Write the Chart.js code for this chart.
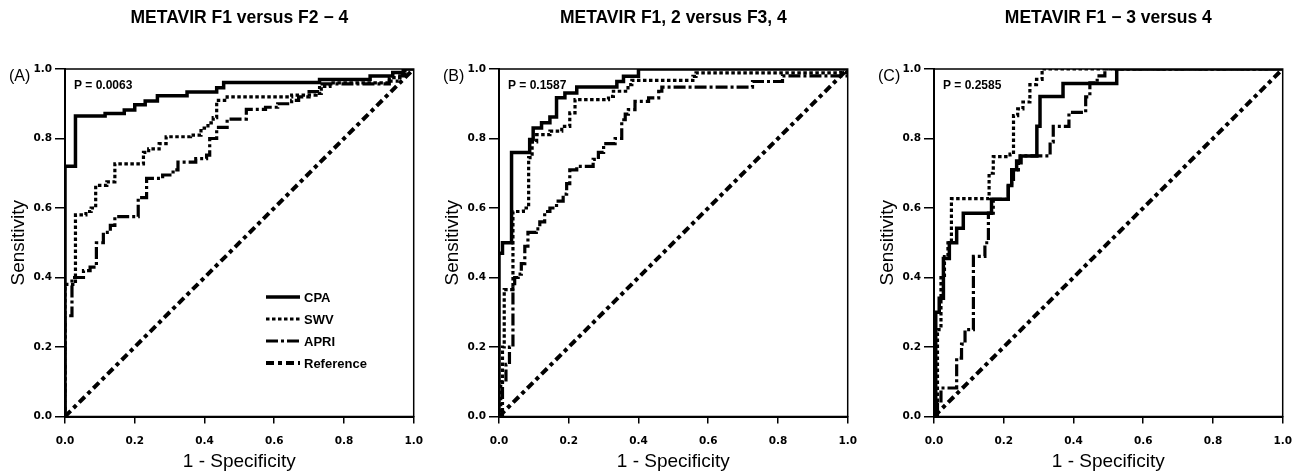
<!DOCTYPE html>
<html>
<head>
<meta charset="utf-8">
<script src="https://cdn.jsdelivr.net/npm/chart.js@4"></script>
<style>
  html, body { margin: 0; padding: 0; background: #fff; overflow: hidden; }
  .panel { position: absolute; top: 0; }
</style>
</head>
<body>
<canvas id="chartA" class="panel" width="434" height="474" style="left:0px"></canvas>
<canvas id="chartB" class="panel" width="434" height="474" style="left:434px"></canvas>
<canvas id="chartC" class="panel" width="434" height="474" style="left:869px"></canvas>
<script>
// axes
const tickValues = [0, 0.2, 0.4, 0.6, 0.8, 1.0];
const tickLabels = ['0.0', '0.2', '0.4', '0.6', '0.8', '1.0'];
const seriesNames = ['CPA', 'SWV', 'APRI', 'Reference'];
const panelTitles = ['METAVIR F1 versus F2 \u2212 4', 'METAVIR F1, 2 versus F3, 4', 'METAVIR F1 \u2212 3 versus 4'];
const panelLetters = ['(A)', '(B)', '(C)'];
const pLabels = ['P = 0.0063', 'P = 0.1587', 'P = 0.2585'];

// (A) F1 vs F2-4 : x = 1 - specificity, y = sensitivity
const cpaAx = [0, 0, 0.03, 0.115, 0.17, 0.20, 0.23, 0.265, 0.35, 0.435, 0.455, 0.73, 0.875, 0.94, 0.97, 1];
const cpaAy = [0, 0.72, 0.865, 0.872, 0.882, 0.897, 0.908, 0.923, 0.934, 0.946, 0.961, 0.97, 0.98, 0.99, 1.0, 1.0];
const swvAx = [0, 0, 0.03, 0.06, 0.075, 0.088, 0.12, 0.143, 0.225, 0.24, 0.27, 0.29, 0.36, 0.39, 0.41, 0.425, 0.435, 0.465, 0.65, 0.72, 0.735, 0.76, 0.93, 0.96, 0.975, 1];
const swvAy = [0, 0.38, 0.58, 0.59, 0.60, 0.665, 0.675, 0.727, 0.76, 0.77, 0.785, 0.805, 0.81, 0.83, 0.845, 0.86, 0.91, 0.92, 0.925, 0.93, 0.95, 0.96, 0.975, 0.985, 1.0, 1.0];
const apriAx = [0, 0, 0.02, 0.053, 0.072, 0.09, 0.11, 0.13, 0.143, 0.21, 0.234, 0.28, 0.31, 0.324, 0.375, 0.406, 0.415, 0.435, 0.465, 0.52, 0.575, 0.61, 0.65, 0.67, 0.70, 0.73, 0.93, 0.96, 0.975, 1];
const apriAy = [0, 0.29, 0.40, 0.42, 0.43, 0.50, 0.53, 0.55, 0.575, 0.63, 0.685, 0.695, 0.71, 0.732, 0.742, 0.752, 0.80, 0.832, 0.856, 0.884, 0.89, 0.90, 0.91, 0.92, 0.935, 0.957, 0.965, 0.98, 1.0, 1.0];

// (B) F1, 2 vs F3, 4
const cpaBx = [0, 0, 0.01, 0.036, 0.088, 0.098, 0.122, 0.146, 0.165, 0.189, 0.223, 0.338, 0.357, 0.40, 1];
const cpaBy = [0, 0.47, 0.50, 0.76, 0.797, 0.83, 0.845, 0.862, 0.917, 0.931, 0.948, 0.964, 0.979, 1.0, 1.0];
const swvBx = [0, 0.005, 0.01, 0.015, 0.04, 0.07, 0.085, 0.095, 0.108, 0.146, 0.18, 0.203, 0.218, 0.314, 0.328, 0.37, 0.381, 0.556, 0.565, 0.98, 1];
const swvBy = [0, 0.10, 0.20, 0.365, 0.59, 0.60, 0.745, 0.79, 0.811, 0.821, 0.835, 0.874, 0.912, 0.921, 0.936, 0.955, 0.967, 0.979, 0.989, 0.99, 1.0];
const apriBx = [0, 0.01, 0.02, 0.03, 0.04, 0.045, 0.055, 0.064, 0.074, 0.083, 0.107, 0.117, 0.131, 0.146, 0.165, 0.184, 0.194, 0.203, 0.223, 0.27, 0.285, 0.30, 0.333, 0.352, 0.362, 0.371, 0.39, 0.429, 0.458, 0.467, 0.727, 0.813, 1];
const apriBy = [0, 0.10, 0.15, 0.20, 0.37, 0.40, 0.41, 0.44, 0.49, 0.53, 0.54, 0.56, 0.59, 0.60, 0.62, 0.64, 0.67, 0.71, 0.72, 0.74, 0.76, 0.785, 0.80, 0.854, 0.87, 0.883, 0.907, 0.917, 0.936, 0.948, 0.964, 0.98, 1.0];

// (C) F1-3 vs 4
const cpaCx = [0, 0.005, 0.015, 0.027, 0.044, 0.065, 0.084, 0.165, 0.213, 0.223, 0.237, 0.247, 0.295, 0.304, 0.37, 0.524, 1];
const cpaCy = [0, 0.30, 0.34, 0.455, 0.50, 0.542, 0.585, 0.625, 0.665, 0.71, 0.735, 0.75, 0.835, 0.921, 0.958, 1.0, 1.0];
const swvCx = [0, 0.01, 0.02, 0.03, 0.04, 0.05, 0.158, 0.17, 0.218, 0.228, 0.24, 0.255, 0.275, 0.294, 0.31, 1];
const swvCy = [0, 0.25, 0.40, 0.46, 0.50, 0.627, 0.70, 0.748, 0.755, 0.866, 0.885, 0.905, 0.955, 0.97, 1.0, 1.0];
const apriCx = [0, 0.01, 0.02, 0.065, 0.079, 0.089, 0.113, 0.146, 0.156, 0.17, 0.213, 0.228, 0.242, 0.25, 0.333, 0.342, 0.387, 0.435, 0.447, 0.468, 0.49, 1];
const apriCy = [0, 0.04, 0.082, 0.168, 0.208, 0.25, 0.461, 0.50, 0.585, 0.625, 0.67, 0.71, 0.73, 0.75, 0.79, 0.835, 0.875, 0.92, 0.96, 0.98, 1.0, 1.0];

// chance line
const refX = [0, 1];
const refY = [0, 1];

const lineStyles = {
    CPA: { borderDash: [], borderWidth: 3.5 },
    SWV: { borderDash: [3.5, 2.5], borderWidth: 3.2 },
    APRI: { borderDash: [12, 3, 3, 3], borderWidth: 3.2 },
    Reference: { borderDash: [8, 4, 4, 4], borderWidth: 4 }
};

const FONT = '"Liberation Sans", Arial, sans-serif';
const TICK_FONT = '"DejaVu Sans", Verdana, sans-serif';

const panelText = {
    id: 'panelText',
    beforeDatasetsDraw(chart) {
        const { ctx, chartArea: ca } = chart;
        ctx.save();
        ctx.strokeStyle = '#000';
        ctx.lineWidth = 1.5;
        ctx.strokeRect(ca.left, ca.top, ca.right - ca.left, ca.bottom - ca.top);
        ctx.restore();
    },
    afterDraw(chart, args, opts) {
        const { ctx, chartArea: ca } = chart;
        ctx.save();
        ctx.fillStyle = '#000';
        ctx.textBaseline = 'alphabetic';
        ctx.textAlign = 'left';
        ctx.font = '16px ' + FONT;
        ctx.fillText(opts.letter, 9, 81);
        ctx.font = 'bold 12px ' + FONT;
        ctx.fillText(opts.pLabel, ca.left + 9, ca.top + 20);

        if (opts.legend) {
            const x0 = ca.left + 201, x1 = ca.left + 235;
            chart.data.datasets.forEach((ds, i) => {
                const y = ca.top + 228 + i * 22;
                ctx.beginPath();
                ctx.setLineDash(ds.borderDash);
                ctx.lineWidth = ds.borderWidth;
                ctx.strokeStyle = '#000';
                ctx.moveTo(x0, y);
                ctx.lineTo(x1, y);
                ctx.stroke();
                ctx.setLineDash([]);
                ctx.font = 'bold 13px ' + FONT;
                ctx.textBaseline = 'middle';
                ctx.fillText(ds.label, x1 + 4, y + 1);
            });
        }
        ctx.restore();
    }
};

function toPoints(xs, ys) {
    return xs.map((x, i) => ({ x, y: ys[i] }));
}

function makePanel(id, idx, series, showLegend) {
    const datasets = series.map((s, i) => {
        const name = seriesNames[i];
        return {
            label: name,
            data: toPoints(s[0], s[1]),
            borderColor: '#000',
            borderWidth: lineStyles[name].borderWidth,
            borderDash: lineStyles[name].borderDash,
            pointRadius: 0,
            fill: false,
            tension: 0,
            stepped: name === 'Reference' ? false : true
        };
    });

    const axisGrid = (len) => ({
        display: true,
        drawOnChartArea: false,
        drawTicks: true,
        tickLength: len,
        color: '#000',
        lineWidth: 1.5
    });

    return new Chart(document.getElementById(id), {
        type: 'line',
        data: { datasets },
        options: {
            responsive: false,
            animation: false,
            devicePixelRatio: 1,
            layout: { padding: { left: 0, right: 11, top: 0, bottom: 0 } },
            plugins: {
                legend: { display: false },
                tooltip: { enabled: false },
                title: {
                    display: true,
                    text: panelTitles[idx],
                    color: '#000',
                    font: { family: FONT, size: 17.5, weight: 'bold' },
                    padding: { top: 8, bottom: 40 },
                    fullSize: false
                },
                panelText: { letter: panelLetters[idx], pLabel: pLabels[idx], legend: showLegend }
            },
            scales: {
                x: {
                    type: 'linear',
                    min: 0,
                    max: 1,
                    afterFit: s => { s.height = 57.5; },
                    afterBuildTicks: s => { s.ticks = tickValues.map(v => ({ value: v })); },
                    ticks: {
                        callback: (v, i) => tickLabels[i],
                        color: '#000',
                        font: { family: TICK_FONT, size: 10.5, weight: 'bold' },
                        padding: 11,
                        maxRotation: 0,
                        autoSkip: false
                    },
                    grid: axisGrid(7),
                    border: { display: true, color: '#000', width: 2 },
                    title: {
                        display: true,
                        text: '1 - Specificity',
                        color: '#000',
                        font: { family: FONT, size: 19 },
                        padding: { top: 0, bottom: 1 }
                    }
                },
                y: {
                    type: 'linear',
                    min: 0,
                    max: 1,
                    afterFit: s => { s.width = 65; },
                    afterBuildTicks: s => { s.ticks = tickValues.map(v => ({ value: v })); },
                    ticks: {
                        callback: (v, i) => tickLabels[i],
                        color: '#000',
                        font: { family: TICK_FONT, size: 10.5, weight: 'bold' },
                        padding: 3,
                        autoSkip: false
                    },
                    grid: axisGrid(10),
                    border: { display: true, color: '#000', width: 2 },
                    title: {
                        display: true,
                        text: 'Sensitivity',
                        color: '#000',
                        font: { family: FONT, size: 19 },
                        padding: { top: 7, bottom: 0 }
                    }
                }
            }
        },
        plugins: [panelText]
    });
}

makePanel('chartA', 0, [[cpaAx, cpaAy], [swvAx, swvAy], [apriAx, apriAy], [refX, refY]], true);
makePanel('chartB', 1, [[cpaBx, cpaBy], [swvBx, swvBy], [apriBx, apriBy], [refX, refY]], false);
makePanel('chartC', 2, [[cpaCx, cpaCy], [swvCx, swvCy], [apriCx, apriCy], [refX, refY]], false);
</script>
</body>
</html>
